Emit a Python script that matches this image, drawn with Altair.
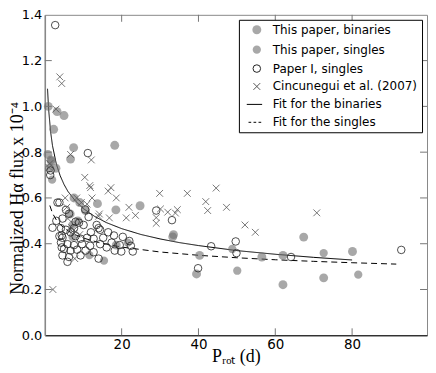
import altair as alt
import pandas as pd

# ---- data ----
# This paper, binaries
bin_x = [0.9, 3.2, 5.0, 2.3, 7.5, 18.2, 6.7, 0.8, 1.6, 1.7, 1.2, 2.9, 7.6, 9.1, 6.6, 10.6,
         13.7, 18.5, 24.8, 33.5, 33.3, 18.6, 40.3, 39.5, 8.6, 67.4, 56.5, 62.0, 80.1, 62.0, 72.6]
bin_y = [1.00, 0.977, 0.96, 0.90, 0.82, 0.83, 0.77, 0.79, 0.766, 0.76, 0.73, 0.73, 0.60, 0.58, 0.53, 0.545,
         0.575, 0.548, 0.566, 0.44, 0.43, 0.394, 0.349, 0.268, 0.50, 0.429, 0.342, 0.349, 0.366, 0.221, 0.251]
# This paper, singles
sin_x = [1.9, 7.2, 11.6, 15.4, 50.1, 48.8, 72.6, 81.6, 21.6, 7.2]
sin_y = [0.68, 0.43, 0.35, 0.326, 0.282, 0.377, 0.359, 0.265, 0.405, 0.482]
# Paper I, singles
p1_x = [2.7, 11.2, 1.4, 1.5, 29.0, 33.1, 43.3, 39.9, 49.7, 49.9, 64.1, 92.8, 22.0, 22.4, 22.9, 3.8, 5.5, 3.3,
        6.3, 8.0, 8.9, 10.1, 7.6, 13.5, 14.0, 5.5, 6.7, 4.4, 4.6, 8.0, 9.3, 11.0, 12.7, 15.2, 18.0, 20.3,
        17.4, 19.5, 4.2, 5.9, 7.6, 9.7, 11.8, 14.4, 16.1, 18.2, 19.9, 5.0, 6.7, 8.4, 10.6, 12.7, 4.6, 6.3,
        9.3, 14.0, 5.9, 4.2, 4.6, 11.4, 3.8, 4.4, 14.4, 2.0, 3.0, 12.0, 16.5, 10.5]
p1_y = [1.355, 0.796, 0.70, 0.72, 0.545, 0.503, 0.389, 0.293, 0.41, 0.359, 0.342, 0.373, 0.412, 0.391, 0.366, 0.58, 0.548, 0.58,
        0.531, 0.496, 0.492, 0.482, 0.468, 0.482, 0.468, 0.461, 0.45, 0.436, 0.426, 0.433, 0.422, 0.426, 0.422, 0.426, 0.436, 0.43,
        0.405, 0.394, 0.405, 0.398, 0.394, 0.398, 0.391, 0.398, 0.384, 0.37, 0.366, 0.377, 0.37, 0.374, 0.37, 0.363, 0.349, 0.342,
        0.349, 0.335, 0.321, 0.468, 0.51, 0.517, 0.433, 0.384, 0.461, 0.47, 0.50, 0.45, 0.45, 0.55]
# Cincunegui et al. (2007)
cin_x = [3.9, 4.4, 2.9, 6.7, 12.1, 10.4, 11.7, 11.9, 17.2, 16.5, 18.6, 5.3, 12.3, 11.0, 5.7, 21.9, 23.6, 21.2,
         16.8, 14.2, 14.0, 29.9, 37.1, 44.6, 41.9, 42.4, 47.3, 29.0, 29.0, 30.1, 32.0, 34.0, 34.5, 70.8, 52.1,
         54.8, 2.1, 7.8, 9.1, 7.6, 1.1, 1.3, 7.0, 7.6, 6.0, 9.5, 8.3]
cin_y = [1.129, 1.10, 0.988, 0.79, 0.766, 0.69, 0.654, 0.645, 0.645, 0.63, 0.60, 0.60, 0.60, 0.573, 0.559, 0.559, 0.524, 0.513,
         0.513, 0.53, 0.52, 0.62, 0.62, 0.643, 0.584, 0.545, 0.559, 0.514, 0.489, 0.552, 0.538, 0.534, 0.549, 0.535, 0.482,
         0.45, 0.20, 0.335, 0.44, 0.447, 0.733, 0.75, 0.47, 0.46, 0.51, 0.58, 0.60]
# Fit curves
fitb_x = [0.7, 1, 1.5, 2, 3, 4, 5, 6, 8, 10, 13, 16, 20, 25, 30, 35, 40, 50, 60, 70, 80]
fitb_y = [1.077, 0.985, 0.890, 0.828, 0.748, 0.697, 0.659, 0.629, 0.586, 0.554, 0.519, 0.4925, 0.466, 0.4405,
          0.421, 0.405, 0.392, 0.370, 0.354, 0.3405, 0.329]
fits_x = [1.3, 2, 3, 4, 6, 8, 10, 14, 20, 30, 40, 50, 60, 70, 80, 91.5]
fits_y = [0.567, 0.533, 0.504, 0.4836, 0.4567, 0.4386, 0.425, 0.4053, 0.3854, 0.364, 0.3495, 0.3387, 0.330,
          0.323, 0.317, 0.311]

x_ticks = [20, 40, 60, 80]
y_ticks = [0.2, 0.4, 0.6, 0.8, 1.0, 1.2]
y_labels = [0, 0.2, 0.4, 0.6, 0.8, 1.0, 1.2, 1.4]

CATS = ["This paper, binaries", "This paper, singles", "Paper I, singles",
        "Cincunegui et al. (2007)", "Fit for the binaries", "Fit for the singles"]

rows = []
for cat, xs, ys in [(CATS[0], bin_x, bin_y), (CATS[1], sin_x, sin_y),
                    (CATS[2], p1_x, p1_y), (CATS[3], cin_x, cin_y)]:
    rows += [{"x": a, "y": b, "cat": cat} for a, b in zip(xs, ys)]
pts = pd.DataFrame(rows)

fits = pd.DataFrame(
    [{"x": a, "y": b, "fit": "b"} for a, b in zip(fitb_x, fitb_y)] +
    [{"x": a, "y": b, "fit": "s"} for a, b in zip(fits_x, fits_y)]
)

W, H = 384, 322
XDOM = [0, 99.5]
YDOM = [0, 1.4]

shapes = ["circle", "circle", "circle", "M-1,-1L1,1M-1,1L1,-1",
          "M-3.4,0L1.8,0", "M-3.4,0L-2.3,0M-1.35,0L-0.25,0M0.7,0L1.8,0"]
fills = ["rgba(110,110,110,0.6)", "rgba(110,110,110,0.6)", "transparent", "transparent",
         "transparent", "transparent"]
strokes = ["transparent", "transparent", "#222222", "#555555", "black", "black"]
sizes = [80, 24, 20, 28, 100, 100]

legend = alt.Legend(
    title=None, orient="top-right", offset=5, strokeColor="black", fillColor="white",
    padding=4, rowPadding=6, symbolOffset=8, labelOffset=10,
    symbolStrokeWidth=1, labelFont="DejaVu Sans", labelFontSize=12, labelColor="black",
    cornerRadius=0,
)

xenc = alt.X("x:Q", scale=alt.Scale(domain=XDOM, nice=False, zero=False),
             axis=alt.Axis(values=x_ticks, format="d", title="Pᵣₒₜ (d)", grid=False, tickSize=0,
                           labelPadding=2, domainColor="black", domainWidth=1,
                           titleFont="Liberation Serif", titleFontSize=18, titleFontWeight="normal",
                           titlePadding=-3))
yenc = alt.Y("y:Q", scale=alt.Scale(domain=YDOM, nice=False),
             axis=alt.Axis(values=y_labels, format=".1f",
                           title="Normalized Hα flux x 10⁻⁴", grid=False, tickSize=0, labelPadding=3,
                           domainColor="#888888", domainWidth=1.5, labelFontSize=13,
                           titleFont="Liberation Serif", titleFontSize=18, titleFontWeight="normal",
                           titlePadding=-5, titleY=184))

points = alt.Chart(pts).mark_point(filled=True, opacity=1, strokeWidth=0.8).encode(
    x=xenc, y=yenc,
    fill=alt.Fill("cat:N", scale=alt.Scale(domain=CATS, range=fills), legend=legend),
    stroke=alt.Stroke("cat:N", scale=alt.Scale(domain=CATS, range=strokes), legend=legend),
    shape=alt.Shape("cat:N", scale=alt.Scale(domain=CATS, range=shapes), legend=legend),
    size=alt.Size("cat:N", scale=alt.Scale(domain=CATS, range=sizes), legend=legend),
)

lines = alt.Chart(fits).mark_line(color="black", strokeWidth=1).encode(
    x="x:Q", y="y:Q",
    strokeDash=alt.StrokeDash("fit:N", scale=alt.Scale(domain=["b", "s"], range=[[1, 0], [6, 4]]),
                              legend=None),
)

ytk = pd.DataFrame({"y": y_ticks})
xtk = pd.DataFrame({"x": x_ticks})
TL = 7
tick_col = "#777777"
left_t = alt.Chart(ytk).mark_rule(color=tick_col).encode(y="y:Q", x=alt.value(0), x2=alt.value(TL))
right_t = alt.Chart(ytk).mark_rule(color=tick_col).encode(y="y:Q", x=alt.value(W - TL), x2=alt.value(W))
bot_t = alt.Chart(xtk).mark_rule(color=tick_col).encode(x="x:Q", y=alt.value(H - TL), y2=alt.value(H))
top_t = alt.Chart(xtk).mark_rule(color=tick_col).encode(x="x:Q", y=alt.value(0), y2=alt.value(TL))

chart = alt.layer(lines, points, left_t, right_t, bot_t, top_t).properties(
    width=W, height=H, padding=0
).configure_view(stroke="#888888", strokeWidth=1).configure_axis(
    labelFont="DejaVu Sans", labelFontSize=13.5, labelColor="black", titleColor="black"
)

chart.save("out.html", embed_options={"renderer": "svg", "actions": False})
